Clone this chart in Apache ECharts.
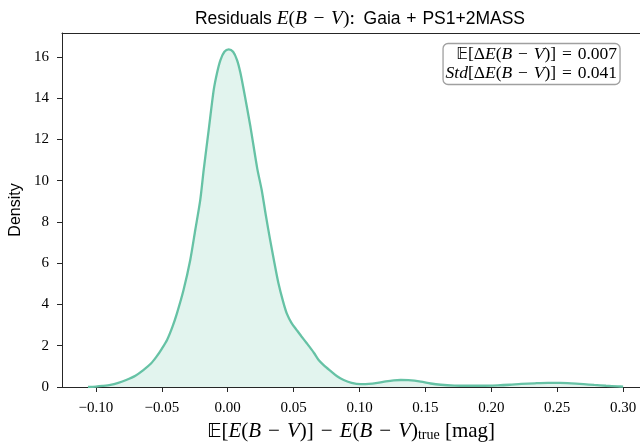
<!DOCTYPE html>
<html><head><meta charset="utf-8">
<script src="https://cdn.jsdelivr.net/npm/echarts@6/dist/echarts.min.js"></script>
<style>html,body{margin:0;padding:0;background:#fff}#c{width:640px;height:443px}</style>
</head><body><div id="c"></div>
<script>
// KDE curve
const residuals = [-0.106,-0.100,-0.095,-0.089,-0.083,-0.077,-0.070,-0.064,-0.058,-0.054,-0.050,-0.046,-0.042,-0.0385,-0.0335,-0.0284,-0.0246,-0.0208,-0.0182,-0.0144,-0.0106,-0.0080,-0.0055,-0.0025,0.0008,0.0041,0.0071,0.0096,0.0122,0.0173,0.0224,0.0258,0.029,0.0322,0.0355,0.0385,0.042,0.0448,0.0485,0.0524,0.056,0.060,0.0655,0.069,0.073,0.078,0.083,0.088,0.094,0.101,0.107,0.1136,0.120,0.126,0.1313,0.137,0.1465,0.154,0.1617,0.172,0.182,0.193,0.205,0.214,0.2226,0.233,0.2429,0.252,0.2606,0.270,0.278,0.287,0.296,0.300];
const density = [0.00,0.02,0.05,0.10,0.20,0.34,0.55,0.82,1.15,1.47,1.85,2.28,2.90,3.57,4.70,6.16,7.61,9.07,10.52,12.46,14.40,15.25,15.85,16.25,16.37,16.25,15.85,15.25,14.40,12.60,10.60,9.55,8.30,7.13,6.00,5.03,4.15,3.57,3.10,2.76,2.45,2.12,1.65,1.31,1.05,0.78,0.52,0.34,0.20,0.14,0.15,0.20,0.27,0.32,0.34,0.33,0.26,0.17,0.11,0.07,0.06,0.06,0.08,0.11,0.15,0.18,0.20,0.20,0.18,0.14,0.10,0.06,0.03,0.02];
const xTicks = [-0.10,-0.05,0.00,0.05,0.10,0.15,0.20,0.25,0.30];
const yTicks = [0,2,4,6,8,10,12,14,16];
const statMean = '0.007';
const statStd = '0.041';

const serif = '"Liberation Serif","DejaVu Serif",serif';
const sans = '"Liberation Sans","DejaVu Sans",sans-serif';
const axisCol = '#262626';
const SP = '\u2004';
const fmtX = v => { const s = Math.abs(v).toFixed(2); return (v < -1e-9 ? '\u2212' : '') + s; };

const chart = echarts.init(document.getElementById('c'), null, {renderer:'canvas'});
chart.setOption({
  animation:false,
  backgroundColor:'#fff',
  title:[{
    text:'{s|Residuals }{i|E}{m|(}{i|B}{m|'+SP+'\u2212'+SP+'}{i|V}{m|):}{s|\u2002Gaia\u2004+\u2004PS1+2MASS}',
    left:355, top:4, textAlign:'center',
    textStyle:{fontWeight:'normal',rich:{
      s:{fontFamily:sans,fontSize:17.5,color:'#000',fontWeight:'normal'},
      i:{fontFamily:serif,fontStyle:'italic',fontSize:19.5,color:'#000',fontWeight:'normal'},
      m:{fontFamily:serif,fontSize:19.5,color:'#000',fontWeight:'normal'}
    }}
  },{
    text:'{bb|\uD835\uDD3C}{r|[\u0394}{i|E}{r|(}{i|B}{r|'+SP+'\u2212'+SP+'}{i|V}{r|)]'+SP+'='+SP+statMean+'}\n{i|Std}{r|[\u0394}{i|E}{r|(}{i|B}{r|'+SP+'\u2212'+SP+'}{i|V}{r|)]'+SP+'='+SP+statStd+'}',
    right:20, top:43,
    backgroundColor:'#fff', borderColor:'#a0a0a0', borderWidth:1.3, borderRadius:5,
    padding:[2,3,2,3],
    textStyle:{fontWeight:'normal',rich:{
      bb:{fontFamily:'"DejaVu Sans",serif',fontSize:16,color:'#000',align:'right',lineHeight:19,fontWeight:'normal'},
      r:{fontFamily:serif,fontSize:17.5,color:'#000',align:'right',lineHeight:19,fontWeight:'normal'},
      i:{fontFamily:serif,fontStyle:'italic',fontSize:17.5,color:'#000',align:'right',lineHeight:19,fontWeight:'normal'}
    }}
  }],
  grid:{left:62, right:0, top:33, bottom:56, containLabel:false, outerBoundsMode:'none'},
  xAxis:[{
    type:'value', min:-0.1257, max:0.3128,
    axisLine:{show:true,onZero:false,lineStyle:{color:axisCol,width:1}},
    axisTick:{show:true,length:5,inside:false,customValues:xTicks,lineStyle:{color:axisCol}},
    axisLabel:{customValues:xTicks,formatter:fmtX,fontFamily:serif,fontSize:15,color:'#000',margin:14},
    splitLine:{show:false},
    name:'{bb|\uD835\uDD3C}{r|[}{i|E}{r|(}{i|B}{r|'+SP+'\u2212'+SP+'}{i|V}{r|)]'+SP+'\u2212'+SP+'}{i|E}{r|(}{i|B}{r|'+SP+'\u2212'+SP+'}{i|V}{r|)}{sub|true}{r| [mag]}',
    nameLocation:'middle', nameGap:31,
    nameTextStyle:{rich:{
      bb:{fontFamily:'"DejaVu Sans",serif',fontSize:20,color:'#000',lineHeight:22},
      r:{fontFamily:serif,fontSize:21,color:'#000',lineHeight:22},
      i:{fontFamily:serif,fontStyle:'italic',fontSize:21,color:'#000',lineHeight:22},
      sub:{fontFamily:serif,fontSize:14,color:'#000',lineHeight:11,verticalAlign:'bottom'}
    }}
  },{
    type:'value', position:'top', min:-0.1257, max:0.3128,
    axisLine:{show:true,onZero:false,lineStyle:{color:axisCol,width:1}},
    axisTick:{show:false}, axisLabel:{show:false}, splitLine:{show:false}
  }],
  yAxis:{
    type:'value', min:0, max:17.16,
    axisLine:{show:true,onZero:false,lineStyle:{color:axisCol,width:1}},
    axisTick:{show:true,length:5,customValues:yTicks,lineStyle:{color:axisCol}},
    axisLabel:{customValues:yTicks,fontFamily:serif,fontSize:15,color:'#000',margin:13},
    splitLine:{show:false},
    name:'Density', nameLocation:'middle', nameGap:37, nameRotate:90,
    nameTextStyle:{fontFamily:sans,fontSize:16,color:'#000'}
  },
  series:[{
    type:'line', xAxisIndex:0,
    data: residuals.map((x,i)=>[x,density[i]]),
    smooth:0.25, showSymbol:false,
    lineStyle:{color:'#66c2a5',width:2.3},
    areaStyle:{color:'rgba(102,194,165,0.27)'},
    z:3
  }]
});
</script></body></html>
